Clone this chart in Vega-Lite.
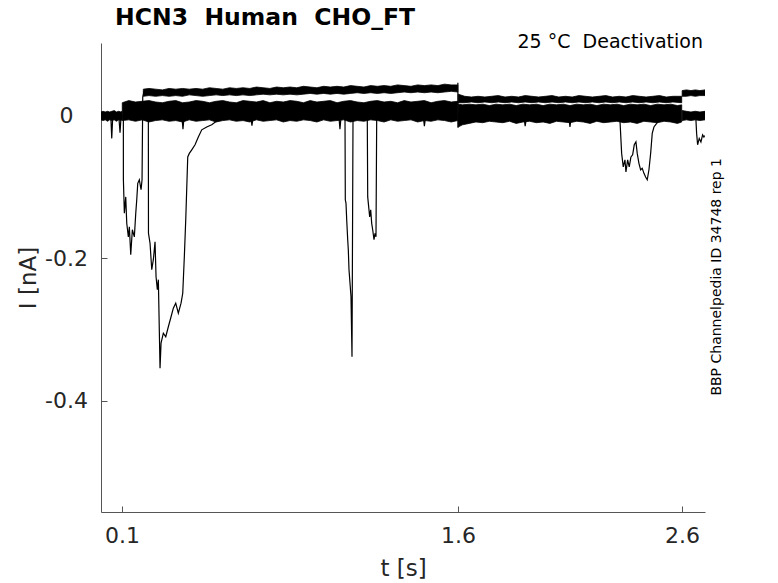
{
  "$schema": "https://vega.github.io/schema/vega-lite/v6.json",
  "width": 604,
  "height": 469,
  "autosize": {"type": "none"},
  "padding": {"left": 101, "top": 43, "right": 73, "bottom": 71},
  "background": "white",
  "config": {
    "view": {"stroke": null},
    "axis": {
      "labelFont": "DejaVu Sans",
      "titleFont": "DejaVu Sans",
      "labelColor": "#262626",
      "titleColor": "#262626",
      "domainColor": "#555555",
      "tickColor": "#555555",
      "grid": false,
      "tickSize": -6,
      "labelFontSize": 22,
      "titleFontSize": 23,
      "titleFontWeight": "normal"
    }
  },
  "datasets": {
    "bands": [
      {"band": "pre", "t": 0.006, "lo": -0.006, "hi": 0.005},
      {"band": "pre", "t": 0.015, "lo": -0.007, "hi": 0.006},
      {"band": "pre", "t": 0.025, "lo": -0.006, "hi": 0.005},
      {"band": "pre", "t": 0.035, "lo": -0.008, "hi": 0.006},
      {"band": "pre", "t": 0.045, "lo": -0.006, "hi": 0.005},
      {"band": "pre", "t": 0.055, "lo": -0.007, "hi": 0.006},
      {"band": "pre", "t": 0.065, "lo": -0.006, "hi": 0.007},
      {"band": "pre", "t": 0.075, "lo": -0.008, "hi": 0.005},
      {"band": "pre", "t": 0.085, "lo": -0.006, "hi": 0.006},
      {"band": "pre", "t": 0.095, "lo": -0.007, "hi": 0.005},
      {"band": "pre", "t": 0.1, "lo": -0.006, "hi": 0.006},
      {"band": "low1", "t": 0.101, "lo": -0.007, "hi": 0.018},
      {"band": "low1", "t": 0.13, "lo": -0.006, "hi": 0.021},
      {"band": "low1", "t": 0.16, "lo": -0.008, "hi": 0.019},
      {"band": "low1", "t": 0.19, "lo": -0.006, "hi": 0.020},
      {"band": "low1", "t": 0.22, "lo": -0.009, "hi": 0.021},
      {"band": "low1", "t": 0.25, "lo": -0.007, "hi": 0.019},
      {"band": "low1", "t": 0.28, "lo": -0.006, "hi": 0.018},
      {"band": "low1", "t": 0.31, "lo": -0.008, "hi": 0.020},
      {"band": "low1", "t": 0.34, "lo": -0.007, "hi": 0.021},
      {"band": "low1", "t": 0.37, "lo": -0.009, "hi": 0.018},
      {"band": "low1", "t": 0.40, "lo": -0.006, "hi": 0.019},
      {"band": "low1", "t": 0.43, "lo": -0.008, "hi": 0.021},
      {"band": "low1", "t": 0.46, "lo": -0.007, "hi": 0.020},
      {"band": "low1", "t": 0.49, "lo": -0.006, "hi": 0.018},
      {"band": "low1", "t": 0.52, "lo": -0.009, "hi": 0.020},
      {"band": "low1", "t": 0.55, "lo": -0.007, "hi": 0.021},
      {"band": "low1", "t": 0.58, "lo": -0.006, "hi": 0.019},
      {"band": "low1", "t": 0.61, "lo": -0.008, "hi": 0.018},
      {"band": "low1", "t": 0.64, "lo": -0.007, "hi": 0.021},
      {"band": "low1", "t": 0.67, "lo": -0.009, "hi": 0.020},
      {"band": "low1", "t": 0.70, "lo": -0.006, "hi": 0.019},
      {"band": "low1", "t": 0.73, "lo": -0.008, "hi": 0.021},
      {"band": "low1", "t": 0.76, "lo": -0.007, "hi": 0.018},
      {"band": "low1", "t": 0.79, "lo": -0.006, "hi": 0.020},
      {"band": "low1", "t": 0.82, "lo": -0.009, "hi": 0.019},
      {"band": "low1", "t": 0.85, "lo": -0.007, "hi": 0.021},
      {"band": "low1", "t": 0.88, "lo": -0.008, "hi": 0.020},
      {"band": "low1", "t": 0.91, "lo": -0.006, "hi": 0.018},
      {"band": "low1", "t": 0.94, "lo": -0.007, "hi": 0.021},
      {"band": "low1", "t": 0.97, "lo": -0.009, "hi": 0.019},
      {"band": "low1", "t": 1.00, "lo": -0.006, "hi": 0.020},
      {"band": "low1", "t": 1.03, "lo": -0.008, "hi": 0.021},
      {"band": "low1", "t": 1.06, "lo": -0.007, "hi": 0.018},
      {"band": "low1", "t": 1.09, "lo": -0.006, "hi": 0.020},
      {"band": "low1", "t": 1.12, "lo": -0.009, "hi": 0.021},
      {"band": "low1", "t": 1.15, "lo": -0.007, "hi": 0.019},
      {"band": "low1", "t": 1.18, "lo": -0.008, "hi": 0.018},
      {"band": "low1", "t": 1.21, "lo": -0.006, "hi": 0.020},
      {"band": "low1", "t": 1.24, "lo": -0.007, "hi": 0.021},
      {"band": "low1", "t": 1.27, "lo": -0.009, "hi": 0.019},
      {"band": "low1", "t": 1.30, "lo": -0.006, "hi": 0.020},
      {"band": "low1", "t": 1.33, "lo": -0.008, "hi": 0.018},
      {"band": "low1", "t": 1.36, "lo": -0.007, "hi": 0.021},
      {"band": "low1", "t": 1.39, "lo": -0.006, "hi": 0.019},
      {"band": "low1", "t": 1.42, "lo": -0.009, "hi": 0.020},
      {"band": "low1", "t": 1.45, "lo": -0.007, "hi": 0.021},
      {"band": "low1", "t": 1.48, "lo": -0.008, "hi": 0.018},
      {"band": "low1", "t": 1.51, "lo": -0.006, "hi": 0.020},
      {"band": "low1", "t": 1.54, "lo": -0.007, "hi": 0.021},
      {"band": "low1", "t": 1.57, "lo": -0.009, "hi": 0.019},
      {"band": "low1", "t": 1.599, "lo": -0.007, "hi": 0.020},
      {"band": "up1", "t": 0.195, "lo": 0.027, "hi": 0.037},
      {"band": "up1", "t": 0.22, "lo": 0.028, "hi": 0.038},
      {"band": "up1", "t": 0.25, "lo": 0.027, "hi": 0.037},
      {"band": "up1", "t": 0.28, "lo": 0.028, "hi": 0.036},
      {"band": "up1", "t": 0.31, "lo": 0.027, "hi": 0.038},
      {"band": "up1", "t": 0.34, "lo": 0.028, "hi": 0.037},
      {"band": "up1", "t": 0.37, "lo": 0.027, "hi": 0.038},
      {"band": "up1", "t": 0.40, "lo": 0.029, "hi": 0.037},
      {"band": "up1", "t": 0.43, "lo": 0.028, "hi": 0.038},
      {"band": "up1", "t": 0.46, "lo": 0.027, "hi": 0.037},
      {"band": "up1", "t": 0.49, "lo": 0.028, "hi": 0.039},
      {"band": "up1", "t": 0.52, "lo": 0.029, "hi": 0.038},
      {"band": "up1", "t": 0.55, "lo": 0.028, "hi": 0.037},
      {"band": "up1", "t": 0.58, "lo": 0.029, "hi": 0.039},
      {"band": "up1", "t": 0.61, "lo": 0.028, "hi": 0.038},
      {"band": "up1", "t": 0.64, "lo": 0.029, "hi": 0.039},
      {"band": "up1", "t": 0.67, "lo": 0.028, "hi": 0.038},
      {"band": "up1", "t": 0.70, "lo": 0.029, "hi": 0.040},
      {"band": "up1", "t": 0.73, "lo": 0.030, "hi": 0.039},
      {"band": "up1", "t": 0.76, "lo": 0.029, "hi": 0.038},
      {"band": "up1", "t": 0.79, "lo": 0.030, "hi": 0.040},
      {"band": "up1", "t": 0.82, "lo": 0.029, "hi": 0.039},
      {"band": "up1", "t": 0.85, "lo": 0.030, "hi": 0.040},
      {"band": "up1", "t": 0.88, "lo": 0.029, "hi": 0.039},
      {"band": "up1", "t": 0.91, "lo": 0.030, "hi": 0.041},
      {"band": "up1", "t": 0.94, "lo": 0.031, "hi": 0.040},
      {"band": "up1", "t": 0.97, "lo": 0.030, "hi": 0.039},
      {"band": "up1", "t": 1.00, "lo": 0.031, "hi": 0.041},
      {"band": "up1", "t": 1.03, "lo": 0.030, "hi": 0.040},
      {"band": "up1", "t": 1.06, "lo": 0.031, "hi": 0.041},
      {"band": "up1", "t": 1.09, "lo": 0.030, "hi": 0.040},
      {"band": "up1", "t": 1.12, "lo": 0.031, "hi": 0.042},
      {"band": "up1", "t": 1.15, "lo": 0.032, "hi": 0.041},
      {"band": "up1", "t": 1.18, "lo": 0.031, "hi": 0.040},
      {"band": "up1", "t": 1.21, "lo": 0.032, "hi": 0.042},
      {"band": "up1", "t": 1.24, "lo": 0.031, "hi": 0.041},
      {"band": "up1", "t": 1.27, "lo": 0.032, "hi": 0.042},
      {"band": "up1", "t": 1.30, "lo": 0.031, "hi": 0.041},
      {"band": "up1", "t": 1.33, "lo": 0.032, "hi": 0.043},
      {"band": "up1", "t": 1.36, "lo": 0.033, "hi": 0.042},
      {"band": "up1", "t": 1.39, "lo": 0.032, "hi": 0.041},
      {"band": "up1", "t": 1.42, "lo": 0.033, "hi": 0.043},
      {"band": "up1", "t": 1.45, "lo": 0.032, "hi": 0.042},
      {"band": "up1", "t": 1.48, "lo": 0.033, "hi": 0.043},
      {"band": "up1", "t": 1.51, "lo": 0.032, "hi": 0.042},
      {"band": "up1", "t": 1.54, "lo": 0.033, "hi": 0.044},
      {"band": "up1", "t": 1.57, "lo": 0.034, "hi": 0.043},
      {"band": "up1", "t": 1.599, "lo": 0.033, "hi": 0.043},
      {"band": "low2", "t": 1.601, "lo": -0.016, "hi": 0.016},
      {"band": "low2", "t": 1.62, "lo": -0.013, "hi": 0.015},
      {"band": "low2", "t": 1.65, "lo": -0.011, "hi": 0.016},
      {"band": "low2", "t": 1.68, "lo": -0.009, "hi": 0.015},
      {"band": "low2", "t": 1.71, "lo": -0.010, "hi": 0.016},
      {"band": "low2", "t": 1.74, "lo": -0.008, "hi": 0.014},
      {"band": "low2", "t": 1.77, "lo": -0.009, "hi": 0.016},
      {"band": "low2", "t": 1.80, "lo": -0.010, "hi": 0.015},
      {"band": "low2", "t": 1.83, "lo": -0.008, "hi": 0.016},
      {"band": "low2", "t": 1.86, "lo": -0.011, "hi": 0.014},
      {"band": "low2", "t": 1.89, "lo": -0.009, "hi": 0.016},
      {"band": "low2", "t": 1.92, "lo": -0.008, "hi": 0.015},
      {"band": "low2", "t": 1.95, "lo": -0.010, "hi": 0.016},
      {"band": "low2", "t": 1.98, "lo": -0.009, "hi": 0.014},
      {"band": "low2", "t": 2.01, "lo": -0.011, "hi": 0.016},
      {"band": "low2", "t": 2.04, "lo": -0.008, "hi": 0.015},
      {"band": "low2", "t": 2.07, "lo": -0.009, "hi": 0.016},
      {"band": "low2", "t": 2.10, "lo": -0.010, "hi": 0.014},
      {"band": "low2", "t": 2.13, "lo": -0.008, "hi": 0.016},
      {"band": "low2", "t": 2.16, "lo": -0.009, "hi": 0.015},
      {"band": "low2", "t": 2.19, "lo": -0.011, "hi": 0.016},
      {"band": "low2", "t": 2.22, "lo": -0.008, "hi": 0.014},
      {"band": "low2", "t": 2.25, "lo": -0.010, "hi": 0.016},
      {"band": "low2", "t": 2.28, "lo": -0.009, "hi": 0.015},
      {"band": "low2", "t": 2.31, "lo": -0.008, "hi": 0.016},
      {"band": "low2", "t": 2.34, "lo": -0.010, "hi": 0.014},
      {"band": "low2", "t": 2.37, "lo": -0.009, "hi": 0.016},
      {"band": "low2", "t": 2.40, "lo": -0.011, "hi": 0.015},
      {"band": "low2", "t": 2.43, "lo": -0.008, "hi": 0.016},
      {"band": "low2", "t": 2.46, "lo": -0.009, "hi": 0.014},
      {"band": "low2", "t": 2.49, "lo": -0.010, "hi": 0.016},
      {"band": "low2", "t": 2.52, "lo": -0.008, "hi": 0.015},
      {"band": "low2", "t": 2.55, "lo": -0.009, "hi": 0.016},
      {"band": "low2", "t": 2.58, "lo": -0.011, "hi": 0.014},
      {"band": "low2", "t": 2.599, "lo": -0.009, "hi": 0.015},
      {"band": "up2", "t": 1.601, "lo": 0.018, "hi": 0.030},
      {"band": "up2", "t": 1.63, "lo": 0.018, "hi": 0.027},
      {"band": "up2", "t": 1.66, "lo": 0.019, "hi": 0.026},
      {"band": "up2", "t": 1.69, "lo": 0.018, "hi": 0.027},
      {"band": "up2", "t": 1.72, "lo": 0.019, "hi": 0.026},
      {"band": "up2", "t": 1.75, "lo": 0.018, "hi": 0.027},
      {"band": "up2", "t": 1.78, "lo": 0.019, "hi": 0.028},
      {"band": "up2", "t": 1.81, "lo": 0.018, "hi": 0.026},
      {"band": "up2", "t": 1.84, "lo": 0.019, "hi": 0.027},
      {"band": "up2", "t": 1.87, "lo": 0.018, "hi": 0.026},
      {"band": "up2", "t": 1.90, "lo": 0.019, "hi": 0.028},
      {"band": "up2", "t": 1.93, "lo": 0.018, "hi": 0.027},
      {"band": "up2", "t": 1.96, "lo": 0.019, "hi": 0.026},
      {"band": "up2", "t": 1.99, "lo": 0.018, "hi": 0.027},
      {"band": "up2", "t": 2.02, "lo": 0.019, "hi": 0.028},
      {"band": "up2", "t": 2.05, "lo": 0.018, "hi": 0.026},
      {"band": "up2", "t": 2.08, "lo": 0.019, "hi": 0.027},
      {"band": "up2", "t": 2.11, "lo": 0.018, "hi": 0.026},
      {"band": "up2", "t": 2.14, "lo": 0.019, "hi": 0.028},
      {"band": "up2", "t": 2.17, "lo": 0.018, "hi": 0.027},
      {"band": "up2", "t": 2.20, "lo": 0.019, "hi": 0.026},
      {"band": "up2", "t": 2.23, "lo": 0.018, "hi": 0.027},
      {"band": "up2", "t": 2.26, "lo": 0.019, "hi": 0.028},
      {"band": "up2", "t": 2.29, "lo": 0.018, "hi": 0.026},
      {"band": "up2", "t": 2.32, "lo": 0.019, "hi": 0.027},
      {"band": "up2", "t": 2.35, "lo": 0.018, "hi": 0.026},
      {"band": "up2", "t": 2.38, "lo": 0.019, "hi": 0.028},
      {"band": "up2", "t": 2.41, "lo": 0.018, "hi": 0.027},
      {"band": "up2", "t": 2.44, "lo": 0.019, "hi": 0.026},
      {"band": "up2", "t": 2.47, "lo": 0.018, "hi": 0.027},
      {"band": "up2", "t": 2.50, "lo": 0.019, "hi": 0.028},
      {"band": "up2", "t": 2.53, "lo": 0.018, "hi": 0.026},
      {"band": "up2", "t": 2.56, "lo": 0.019, "hi": 0.027},
      {"band": "up2", "t": 2.599, "lo": 0.018, "hi": 0.027},
      {"band": "up3", "t": 2.601, "lo": 0.027, "hi": 0.035},
      {"band": "up3", "t": 2.62, "lo": 0.027, "hi": 0.036},
      {"band": "up3", "t": 2.64, "lo": 0.028, "hi": 0.035},
      {"band": "up3", "t": 2.66, "lo": 0.027, "hi": 0.036},
      {"band": "up3", "t": 2.68, "lo": 0.028, "hi": 0.035},
      {"band": "up3", "t": 2.703, "lo": 0.028, "hi": 0.036},
      {"band": "low3", "t": 2.601, "lo": -0.007, "hi": 0.007},
      {"band": "low3", "t": 2.62, "lo": -0.006, "hi": 0.006},
      {"band": "low3", "t": 2.64, "lo": -0.007, "hi": 0.005},
      {"band": "low3", "t": 2.66, "lo": -0.006, "hi": 0.006},
      {"band": "low3", "t": 2.68, "lo": -0.007, "hi": 0.005},
      {"band": "low3", "t": 2.703, "lo": -0.006, "hi": 0.006}
    ],
    "traces": [
      {"s": "d1", "t": 0.050, "i": -0.002},
      {"s": "d1", "t": 0.054, "i": -0.032},
      {"s": "d1", "t": 0.058, "i": -0.004},
      {"s": "d2", "t": 0.086, "i": -0.003},
      {"s": "d2", "t": 0.091, "i": -0.024},
      {"s": "d2", "t": 0.095, "i": -0.004},
      {"s": "e1", "t": 0.100, "i": 0.0},
      {"s": "e1", "t": 0.1058, "i": 0.000},
      {"s": "e1", "t": 0.1060, "i": -0.090},
      {"s": "e1", "t": 0.1103, "i": -0.137},
      {"s": "e1", "t": 0.1165, "i": -0.114},
      {"s": "e1", "t": 0.1210, "i": -0.151},
      {"s": "e1", "t": 0.1281, "i": -0.170},
      {"s": "e1", "t": 0.1326, "i": -0.156},
      {"s": "e1", "t": 0.1388, "i": -0.195},
      {"s": "e1", "t": 0.1460, "i": -0.160},
      {"s": "e1", "t": 0.1549, "i": -0.170},
      {"s": "e1", "t": 0.1612, "i": -0.137},
      {"s": "e1", "t": 0.1656, "i": -0.118},
      {"s": "e1", "t": 0.1701, "i": -0.095},
      {"s": "e1", "t": 0.1772, "i": -0.090},
      {"s": "e1", "t": 0.1848, "i": -0.104},
      {"s": "e1", "t": 0.1893, "i": -0.090},
      {"s": "e1", "t": 0.1924, "i": 0.026},
      {"s": "e1", "t": 0.1982, "i": 0.034},
      {"s": "e2", "t": 0.2150, "i": 0.002},
      {"s": "e2", "t": 0.2174, "i": -0.002},
      {"s": "e2", "t": 0.2180, "i": -0.165},
      {"s": "e2", "t": 0.2250, "i": -0.179},
      {"s": "e2", "t": 0.2326, "i": -0.216},
      {"s": "e2", "t": 0.2397, "i": -0.202},
      {"s": "e2", "t": 0.2473, "i": -0.177},
      {"s": "e2", "t": 0.2518, "i": -0.226},
      {"s": "e2", "t": 0.2576, "i": -0.244},
      {"s": "e2", "t": 0.2621, "i": -0.230},
      {"s": "e2", "t": 0.2696, "i": -0.354},
      {"s": "e2", "t": 0.2741, "i": -0.319},
      {"s": "e2", "t": 0.2844, "i": -0.305},
      {"s": "e2", "t": 0.2951, "i": -0.310},
      {"s": "e2", "t": 0.3067, "i": -0.296},
      {"s": "e2", "t": 0.3188, "i": -0.282},
      {"s": "e2", "t": 0.3290, "i": -0.270},
      {"s": "e2", "t": 0.3397, "i": -0.263},
      {"s": "e2", "t": 0.3513, "i": -0.277},
      {"s": "e2", "t": 0.3634, "i": -0.263},
      {"s": "e2", "t": 0.3710, "i": -0.249},
      {"s": "e2", "t": 0.3781, "i": -0.198},
      {"s": "e2", "t": 0.3844, "i": -0.146},
      {"s": "e2", "t": 0.3933, "i": -0.058},
      {"s": "e2", "t": 0.4004, "i": -0.053},
      {"s": "e2", "t": 0.4112, "i": -0.048},
      {"s": "e2", "t": 0.4259, "i": -0.041},
      {"s": "e2", "t": 0.4406, "i": -0.030},
      {"s": "e2", "t": 0.4558, "i": -0.020},
      {"s": "e2", "t": 0.4781, "i": -0.016},
      {"s": "e2", "t": 0.5004, "i": -0.013},
      {"s": "e2", "t": 0.5299, "i": -0.006},
      {"s": "e2", "t": 0.5746, "i": -0.004},
      {"s": "d3", "t": 0.368, "i": -0.004},
      {"s": "d3", "t": 0.372, "i": -0.019},
      {"s": "d3", "t": 0.376, "i": -0.005},
      {"s": "d4", "t": 0.676, "i": -0.004},
      {"s": "d4", "t": 0.680, "i": -0.014},
      {"s": "d4", "t": 0.684, "i": -0.005},
      {"s": "d5", "t": 1.069, "i": -0.004},
      {"s": "d5", "t": 1.073, "i": -0.019},
      {"s": "d5", "t": 1.077, "i": -0.005},
      {"s": "e3", "t": 1.0930, "i": 0.000},
      {"s": "e3", "t": 1.0955, "i": -0.002},
      {"s": "e3", "t": 1.0969, "i": -0.118},
      {"s": "e3", "t": 1.1000, "i": -0.123},
      {"s": "e3", "t": 1.1031, "i": -0.146},
      {"s": "e3", "t": 1.1076, "i": -0.174},
      {"s": "e3", "t": 1.1103, "i": -0.188},
      {"s": "e3", "t": 1.1134, "i": -0.216},
      {"s": "e3", "t": 1.1179, "i": -0.235},
      {"s": "e3", "t": 1.1223, "i": -0.254},
      {"s": "e3", "t": 1.1268, "i": -0.338},
      {"s": "e3", "t": 1.1313, "i": -0.002},
      {"s": "e3", "t": 1.1340, "i": 0.001},
      {"s": "e4", "t": 1.1930, "i": 0.000},
      {"s": "e4", "t": 1.1950, "i": -0.003},
      {"s": "e4", "t": 1.1969, "i": -0.114},
      {"s": "e4", "t": 1.2013, "i": -0.128},
      {"s": "e4", "t": 1.2058, "i": -0.142},
      {"s": "e4", "t": 1.2103, "i": -0.132},
      {"s": "e4", "t": 1.2147, "i": -0.151},
      {"s": "e4", "t": 1.2192, "i": -0.160},
      {"s": "e4", "t": 1.2250, "i": -0.174},
      {"s": "e4", "t": 1.2295, "i": -0.165},
      {"s": "e4", "t": 1.2339, "i": -0.170},
      {"s": "e4", "t": 1.2370, "i": -0.006},
      {"s": "e4", "t": 1.2400, "i": 0.000},
      {"s": "d6", "t": 1.446, "i": -0.004},
      {"s": "d6", "t": 1.450, "i": -0.015},
      {"s": "d6", "t": 1.454, "i": -0.005},
      {"s": "step", "t": 1.5995, "i": 0.046},
      {"s": "step", "t": 1.6000, "i": -0.017},
      {"s": "step", "t": 1.6030, "i": 0.004},
      {"s": "d7", "t": 1.896, "i": -0.005},
      {"s": "d7", "t": 1.900, "i": -0.015},
      {"s": "d7", "t": 1.904, "i": -0.006},
      {"s": "d8", "t": 2.096, "i": -0.005},
      {"s": "d8", "t": 2.100, "i": -0.016},
      {"s": "d8", "t": 2.104, "i": -0.006},
      {"s": "e5", "t": 2.3200, "i": -0.002},
      {"s": "e5", "t": 2.3232, "i": -0.006},
      {"s": "e5", "t": 2.3308, "i": -0.053},
      {"s": "e5", "t": 2.3379, "i": -0.072},
      {"s": "e5", "t": 2.3455, "i": -0.062},
      {"s": "e5", "t": 2.3500, "i": -0.079},
      {"s": "e5", "t": 2.3576, "i": -0.062},
      {"s": "e5", "t": 2.3647, "i": -0.072},
      {"s": "e5", "t": 2.3723, "i": -0.058},
      {"s": "e5", "t": 2.3799, "i": -0.055},
      {"s": "e5", "t": 2.3871, "i": -0.041},
      {"s": "e5", "t": 2.3946, "i": -0.037},
      {"s": "e5", "t": 2.4004, "i": -0.053},
      {"s": "e5", "t": 2.4080, "i": -0.067},
      {"s": "e5", "t": 2.4156, "i": -0.076},
      {"s": "e5", "t": 2.4228, "i": -0.074},
      {"s": "e5", "t": 2.4304, "i": -0.081},
      {"s": "e5", "t": 2.4379, "i": -0.086},
      {"s": "e5", "t": 2.4451, "i": -0.090},
      {"s": "e5", "t": 2.4527, "i": -0.076},
      {"s": "e5", "t": 2.4603, "i": -0.053},
      {"s": "e5", "t": 2.4674, "i": -0.025},
      {"s": "e5", "t": 2.4750, "i": -0.016},
      {"s": "e5", "t": 2.4871, "i": -0.011},
      {"s": "e5", "t": 2.5000, "i": -0.004},
      {"s": "e6", "t": 2.6600, "i": -0.002},
      {"s": "e6", "t": 2.6625, "i": -0.006},
      {"s": "e6", "t": 2.6656, "i": -0.025},
      {"s": "e6", "t": 2.6700, "i": -0.041},
      {"s": "e6", "t": 2.6772, "i": -0.032},
      {"s": "e6", "t": 2.6848, "i": -0.037},
      {"s": "e6", "t": 2.6924, "i": -0.027},
      {"s": "e6", "t": 2.6982, "i": -0.030},
      {"s": "e6", "t": 2.7020, "i": -0.028}
    ],
    "labels": [
      {"label": "HCN3\u00a0 Human\u00a0 CHO_FT", "t": 0.069, "i": 0.127, "kind": "title"},
      {"label": "25 °C\u00a0 Deactivation", "t": 2.694, "i": 0.0952, "kind": "cond"},
      {"label": "BBP Channelpedia ID 34748 rep 1", "t": 2.756, "i": -0.226, "kind": "id"}
    ]
  },
  "encoding": {
    "x": {
      "field": "t",
      "type": "quantitative",
      "scale": {"domain": [0.006, 2.703], "nice": false, "zero": false},
      "axis": {
        "values": [0.1, 1.6, 2.6],
        "format": ".1f",
        "title": "t [s]",
        "labelBaseline": "alphabetic",
        "labelPadding": 36,
        "titlePadding": 11
      }
    },
    "y": {
      "field": "i",
      "type": "quantitative",
      "scale": {"domain": [-0.5556, 0.1017], "nice": false, "zero": false},
      "axis": {
        "values": [0, -0.2, -0.4],
        "labelExpr": "datum.value === 0 ? '0' : (datum.value < -0.3 ? '-0.4' : '-0.2')",
        "title": "I [nA]",
        "labelAlign": "center",
        "labelBaseline": "middle",
        "labelPadding": 41,
        "titlePadding": 4
      }
    }
  },
  "layer": [
    {
      "data": {"name": "bands"},
      "mark": {"type": "area", "color": "#000000", "stroke": "#000000", "strokeWidth": 0.8, "clip": true},
      "encoding": {
        "y": {"field": "lo", "type": "quantitative"},
        "y2": {"field": "hi"},
        "detail": {"field": "band", "type": "nominal"}
      }
    },
    {
      "data": {"name": "traces"},
      "mark": {"type": "line", "color": "#000000", "strokeWidth": 1.2, "clip": true},
      "encoding": {
        "detail": {"field": "s", "type": "nominal"}
      }
    },
    {
      "data": {"name": "labels"},
      "transform": [{"filter": "datum.kind === 'title'"}],
      "mark": {"type": "text", "align": "left", "baseline": "alphabetic", "font": "DejaVu Sans", "fontSize": 23.5, "fontWeight": "bold", "color": "#000000"},
      "encoding": {"text": {"field": "label"}}
    },
    {
      "data": {"name": "labels"},
      "transform": [{"filter": "datum.kind === 'cond'"}],
      "mark": {"type": "text", "align": "right", "baseline": "alphabetic", "font": "DejaVu Sans", "fontSize": 19, "color": "#000000"},
      "encoding": {"text": {"field": "label"}}
    },
    {
      "data": {"name": "labels"},
      "transform": [{"filter": "datum.kind === 'id'"}],
      "mark": {"type": "text", "align": "center", "baseline": "middle", "angle": 270, "font": "DejaVu Sans", "fontSize": 14, "color": "#000000"},
      "encoding": {"text": {"field": "label"}}
    }
  ]
}
